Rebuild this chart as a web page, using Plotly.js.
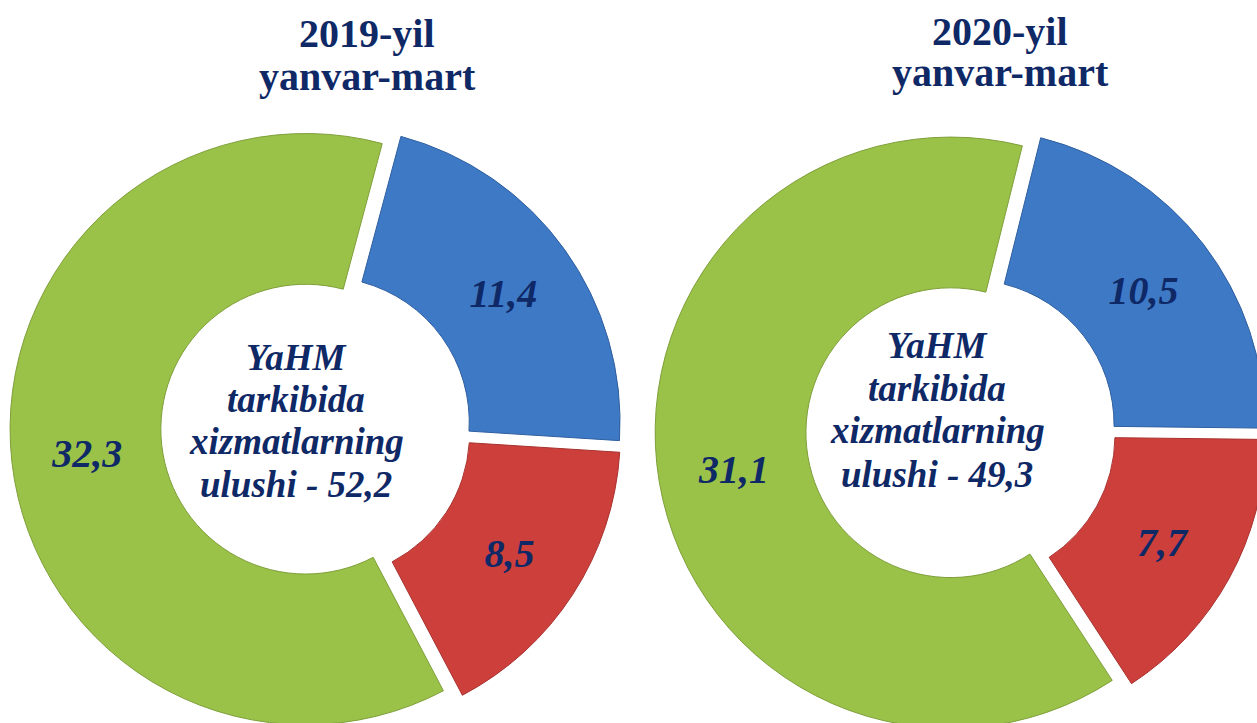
<!DOCTYPE html>
<html>
<head>
<meta charset="utf-8">
<script src="https://cdn.plot.ly/plotly-3.0.1.min.js"></script>
<style>
  html, body { margin: 0; padding: 0; background: #ffffff; overflow: hidden; }
  #chart { width: 1280px; height: 740px; }
</style>
</head>
<body>
<div id="chart"></div>
<script>
// ---- data ----
const categories = ["A", "B", "C"];
const values2019 = [11.4, 8.5, 32.3];
const values2020 = [10.5, 7.7, 31.1];
const titles2019 = ["2019-yil", "yanvar-mart"];
const titles2020 = ["2020-yil", "yanvar-mart"];
const center2019 = ["YaHM", "tarkibida", "xizmatlarning", "ulushi - 52,2"];
const center2020 = ["YaHM", "tarkibida", "xizmatlarning", "ulushi - 49,3"];

// ---- style ----
const W = 1280, H = 740;
const navy = "#0f2866";
const sliceColors = ["#3e79c6", "#cd3f3b", "#9ac249"];
const edgeColors = ["#2f5f9f", "#a8322f", "#7f9f3a"];
const px = x => x / W;
const py = y => 1 - y / H;

function pie(values, cx, cy, rotation) {
  const half = 306;
  return {
    type: "pie",
    labels: categories,
    values: values,
    sort: false,
    direction: "clockwise",
    rotation: rotation,
    hole: 0.49,
    pull: [0.035, 0.035, 0.035],
    marker: { colors: sliceColors, line: { width: 1, color: edgeColors } },
    texttemplate: "%{value:.1f}",
    textposition: "inside",
    insidetextorientation: "horizontal",
    textfont: { family: "Liberation Serif", size: 40, color: navy, weight: "bold", style: "italic" },
    hoverinfo: "none",
    showlegend: false,
    domain: { x: [px(cx - half), px(cx + half)], y: [py(cy + half), py(cy - half)] }
  };
}

const annotations = [];
function addLines(lines, cx, baselines, size, italic) {
  lines.forEach((t, i) => {
    annotations.push({
      text: t, xref: "paper", yref: "paper",
      x: px(cx), y: py(baselines[i] - size * 0.33),
      xanchor: "center", yanchor: "middle", showarrow: false,
      font: { family: "Liberation Serif", size: size, color: navy, weight: "bold", style: italic ? "italic" : "normal" }
    });
  });
}
addLines(titles2019, 367, [47, 90], 40, false);
addLines(titles2020, 1000, [45, 86], 40, false);
addLines(center2019, 296, [370, 412, 454, 497], 37, true);
addLines(center2020, 937, [358, 401, 443, 487], 37, true);

const data = [pie(values2019, 316, 428, 15), pie(values2020, 961, 431, 14)];
const layout = {
  width: W, height: H,
  margin: { l: 0, r: 0, t: 0, b: 0 },
  paper_bgcolor: "#ffffff",
  separators: ", ",
  showlegend: false,
  annotations: annotations
};
Plotly.newPlot("chart", data, layout, { staticPlot: true, displayModeBar: false });
</script>
</body>
</html>
